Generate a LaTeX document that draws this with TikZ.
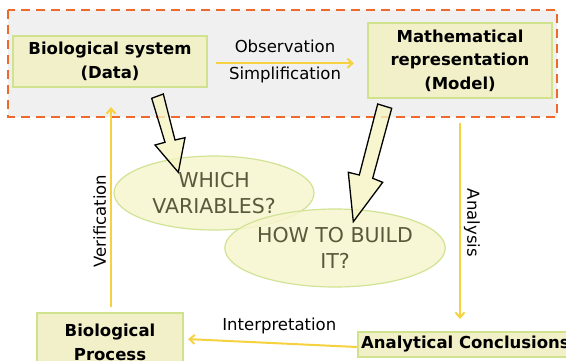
\documentclass[tikz,border=0pt]{standalone}
\usepackage{fontspec}
\setmainfont{DejaVu Sans}
\usetikzlibrary{arrows.meta,shapes.geometric}
\definecolor{dashorange}{HTML}{EE6A2C}
\definecolor{panelgray}{HTML}{F0F0F0}
\definecolor{boxfill}{HTML}{F2F0C8}
\definecolor{boxline}{HTML}{D0E28E}
\definecolor{ellfill}{HTML}{F6F5CE}
\definecolor{ellline}{HTML}{D2E395}
\definecolor{flowyellow}{HTML}{F7D240}
\definecolor{asktext}{HTML}{5A5A3A}
\definecolor{blockfill}{HTML}{F6F4C2}
\begin{document}
\begin{tikzpicture}[x=1pt,y=-1pt,
  stagebox/.style={draw=boxline, line width=2.2pt, fill=boxfill,
    font=\fontsize{16.5}{23.5}\selectfont\bfseries, align=center, inner sep=0pt},
  question/.style={ellipse, draw=ellline, line width=1.2pt, fill=ellfill,
    fill opacity=0.85, text opacity=1, text=asktext,
    font=\fontsize{20.5}{25.5}\selectfont, align=center, inner sep=0pt},
  flow/.style={draw=flowyellow, line width=2pt,
    -{Straight Barb[length=5pt,width=9pt]}},
  lbl/.style={font=\fontsize{16.5}{19}\selectfont, inner sep=0pt, text=black},
  blockarrow/.style={draw=black, line width=1.3pt, fill=blockfill,
    fill opacity=0.8, line join=miter}]
\clip (0,0) rectangle (566,360);
\fill[white] (0,0) rectangle (566,360);
% panel
\draw[dashorange, line width=2.5pt, dash pattern=on 9pt off 6pt, fill=panelgray]
  (8,10) rectangle (557,117);
% stage boxes
\node[stagebox, minimum width=194pt, minimum height=51pt] (bio) at (110,61.5)
  {Biological system\\(Data)};
\node[stagebox, minimum width=184pt, minimum height=75pt] (math) at (460,60.5)
  {Mathematical\\representation\\(Model)};
\node[stagebox, minimum width=146pt, minimum height=58pt, anchor=north] (proc) at (110,312)
  {Biological\\Process};
\node[stagebox, minimum height=25pt, inner xsep=3pt, anchor=west] (concl) at (357,344.5)
  {Analytical Conclusions};
% questions
\node[question, minimum width=200pt, minimum height=74pt] (which) at (214,193)
  {WHICH\\VARIABLES?};
\node[question, minimum width=196pt, minimum height=78pt] (how) at (335,248)
  {HOW TO BUILD\\IT?};
% block arrows
\draw[blockarrow] (151.7,98.3) -- (163.3,94) -- (175,140) -- (185,137.7)
  -- (178.3,172.3) -- (155,145) -- (165,142.3) -- cycle;
\draw[blockarrow] (377.7,104) -- (391.7,108.3) -- (372.7,178.3) -- (382.7,182.3)
  -- (353.3,221.7) -- (348.3,172.3) -- (359.3,175) -- cycle;
% flow connectors
\draw[flow] ([xshift=8pt,yshift=-1.8pt]bio.east) -- ([xshift=-13pt,yshift=-2.8pt]math.west)
  node[lbl, midway, above=10pt] {Observation}
  node[lbl, midway, below=3pt] {Simplification};
\draw[flow] ([yshift=-24pt]math.south) -- ([yshift=12pt]math.south |- concl.north)
  node[lbl, pos=0.51, sloped, above=3pt] {Analysis};
\draw[flow] ([yshift=-2.5pt]concl.west) -- ([xshift=4pt,yshift=3pt]proc.east)
  node[lbl, pos=0.46, above=8pt] {Interpretation};
\draw[flow] ([xshift=1pt,yshift=5pt]proc.north) -- ([xshift=1pt,yshift=-19pt]bio.south)
  node[lbl, pos=0.43, sloped, above=4pt] {Verification};
\end{tikzpicture}
\end{document}
